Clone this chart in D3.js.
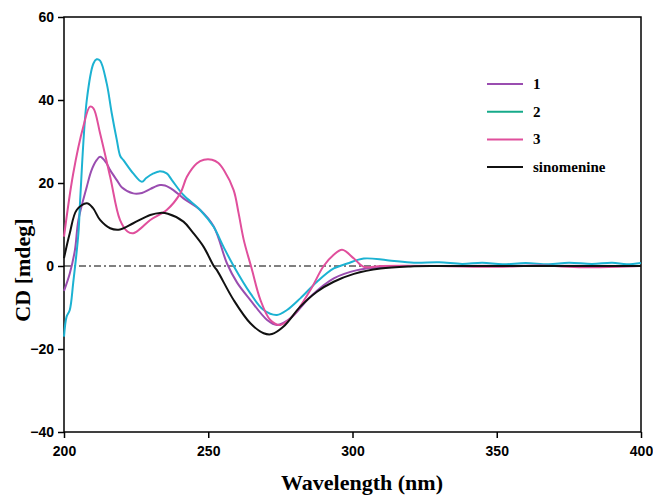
<!DOCTYPE html>
<html>
<head>
<meta charset="utf-8">
<script src="https://cdn.jsdelivr.net/npm/d3@7"></script>
<style>
  body { margin: 0; background: #fff; }
  svg { display: block; }
  .tick-label { font-family: "Liberation Sans", Arial, sans-serif; font-weight: bold; font-size: 14px; }
  .title { font-family: "Liberation Serif", "Times New Roman", serif; font-weight: bold; font-size: 22px; }
  .legend-text { font-family: "Liberation Serif", "Times New Roman", serif; font-weight: bold; font-size: 15px; }
</style>
</head>
<body>
<svg id="chart" width="653" height="495"></svg>
<script>
"use strict";

var xTicks = [200, 250, 300, 350, 400];
var yTicks = [-40, -20, 0, 20, 40, 60];
var seriesNames = ['1', '2', '3', 'sinomenine'];

// [wavelength nm, CD mdeg]
var cd1 = [[200,-6],[202,-1.8],[203.8,3.9],[205,11.1],[207.9,19.1],[209.5,23],[211.3,25.5],[212.5,26.3],
  [214.5,25],[216,23.1],[218.3,20.7],[220,19],[224,17.5],[227,17.6],[230,18.6],[233.3,19.5],[235,19.4],
  [237.9,18.3],[241.4,16.3],[247.2,13.5],[251.9,9.5],[256.5,0.6],[260,-4],[264.6,-8.2],[270.4,-13],
  [273.8,-14.2],[278.5,-12.6],[285.4,-7.4],[293.5,-3],[301.6,-1],[312,-0.2],[325,0],[400,0]];
var cd2 = [[200,-17],[200.9,-12.2],[202,-10.6],[203.2,-4],[205,7.9],[205.6,15.9],[207.9,40],[210.2,48.8],
  [211.3,49.8],[212.5,49.5],[214.8,44],[216.5,37],[218.3,30.4],[219.5,26.5],[220.6,25.5],[224,22.3],
  [227,20.3],[228.5,21.2],[231,22.3],[233,22.8],[235.6,22.3],[237.4,20.7],[241.4,17.1],[247.2,13.5],
  [251.8,9.5],[255.3,4.6],[258.8,0],[264.6,-6.6],[269.2,-10.6],[273.8,-11.8],[277.3,-10.6],[281.9,-7.8],
  [287.7,-3.8],[293.5,-0.6],[298.2,0.6],[303.9,1.8],[312,1.4],[321.3,0.8],[330,0.9],[338,0.5],[345,0.8],
  [352,0.4],[360,0.7],[368,0.4],[375,0.8],[383,0.5],[390,0.8],[395,0.4],[400,0.7]];
var cd3 = [[200,7.1],[203.2,22.3],[206.7,33.6],[209,38.4],[210.2,38],[212.5,32],[216,21.5],[219.4,11.1],
  [222,8.3],[224,7.9],[226.5,9],[229.9,11.1],[235.6,13.5],[240.3,17.5],[242.6,21.5],[246,24.7],
  [248.5,25.6],[251.3,25.6],[253.5,24.8],[255.5,23],[258.8,18.3],[260.5,12.8],[262.3,6.3],[265,-0.5],
  [268.1,-8.2],[271.5,-13],[275,-14.2],[279.6,-11.8],[285.4,-5.8],[290,0],[293.5,2.7],[296.4,3.9],
  [300.5,1.8],[303.9,-0.2],[310,0],[330,0],[350,-0.2],[365,0.1],[380,-0.3],[400,0]];
var cdSino = [[200,1.9],[202,7.9],[204.4,13.5],[207.9,15.1],[210,14],[212.5,11.1],[216,9.1],[219.4,8.8],
  [224,10.3],[229.9,12.3],[233.3,12.8],[236,12.6],[241.4,10.7],[244.5,8.2],[248.4,4.6],[251.9,0],
  [253,-1],[258.8,-8.2],[264.6,-13.8],[269.2,-16.2],[272.1,-16.4],[276.1,-14.6],[281.9,-9.8],
  [287.7,-6.2],[293.5,-3.8],[300.5,-1.9],[309.7,-0.6],[320,-0.1],[330,0],[400,0]];

var lineColors = ['#9a4db0', '#1cb2d2', '#e04f9c', '#111111'];
var legendColors = ['#9a4db0', '#16aa8a', '#e04f9c', '#111111'];
var allSeries = [cd1, cd2, cd3, cdSino];

var svg = d3.select('#chart');
var plotL = 64, plotR = 641, plotT = 17, plotB = 432;

var x = d3.scaleLinear().domain([200, 400]).range([plotL, plotR]);
var y = d3.scaleLinear().domain([-40, 60]).range([plotB, plotT]);

// frame
svg.append('rect')
  .attr('x', plotL).attr('y', plotT)
  .attr('width', plotR - plotL).attr('height', plotB - plotT)
  .attr('fill', 'none').attr('stroke', '#000').attr('stroke-width', 1.5);

// axes
var yAxis = svg.append('g')
  .attr('transform', 'translate(' + plotL + ',0)')
  .call(d3.axisLeft(y).tickValues(yTicks).tickSize(6).tickPadding(4));
var xAxis = svg.append('g')
  .attr('transform', 'translate(0,' + plotB + ')')
  .call(d3.axisBottom(x).tickValues(xTicks).tickSize(6).tickPadding(8));
[xAxis, yAxis].forEach(function (ax) {
  ax.select('.domain').remove();
  ax.selectAll('line').attr('stroke', '#000').attr('stroke-width', 1.5);
  ax.selectAll('text').attr('class', 'tick-label').attr('fill', '#000');
});

// zero line
svg.append('line')
  .attr('x1', plotL).attr('x2', plotR)
  .attr('y1', y(0)).attr('y2', y(0))
  .attr('stroke', '#000').attr('stroke-width', 1)
  .attr('stroke-dasharray', '7,3,2,3');

var line = d3.line()
  .x(function (d) { return x(d[0]); })
  .y(function (d) { return y(d[1]); })
  .curve(d3.curveCatmullRom.alpha(0.5));

svg.append('g').selectAll('path')
  .data(allSeries)
  .enter().append('path')
  .attr('d', line)
  .attr('fill', 'none')
  .attr('stroke', function (d, i) { return lineColors[i]; })
  .attr('stroke-width', 2);

// legend
var legend = svg.append('g').selectAll('g')
  .data(seriesNames)
  .enter().append('g')
  .attr('transform', function (d, i) { return 'translate(487,' + (84 + i * 27.7) + ')'; });
legend.append('line')
  .attr('x1', 0).attr('x2', 36)
  .attr('stroke', function (d, i) { return legendColors[i]; })
  .attr('stroke-width', 2);
legend.append('text')
  .attr('class', 'legend-text')
  .attr('x', 46).attr('y', 5)
  .text(function (d) { return d; });

// titles
svg.append('text')
  .attr('class', 'title')
  .attr('text-anchor', 'middle')
  .attr('transform', 'translate(30,270) rotate(-90)')
  .text('CD [mdeg]');
svg.append('text')
  .attr('class', 'title')
  .attr('text-anchor', 'middle')
  .attr('x', 362).attr('y', 490)
  .text('Wavelength (nm)');
</script>
</body>
</html>
